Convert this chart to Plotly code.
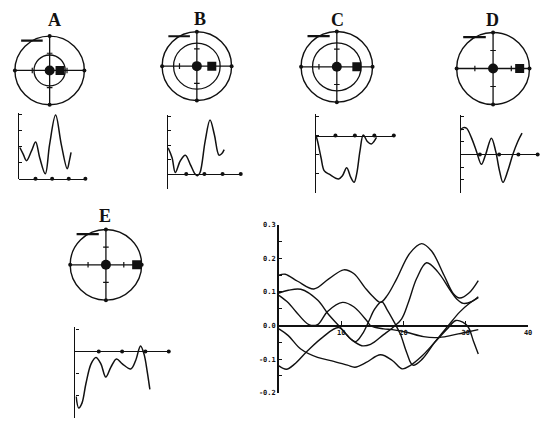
import plotly.graph_objects as go

W, H = 548, 434
INK = "#111111"

# ---- panel letters / target diagrams -------------------------------------
PANELS = ["A", "B", "C", "D", "E"]
INNER_RING = [0.45, 0.67, 0.68, None, None]   # inner circle radius (outer = 1)
SQUARE_POS = [0.30, 0.43, 0.56, 0.73, 0.86]   # square marker on +x axis
RING_TICKS = [-0.5, 0.5]
RING_ENDS = [-1, 1]
LABEL_DASH_X = [-0.82, -0.2]
LABEL_DASH_Y = 0.87

# ---- small traces under each target --------------------------------------
SMALL_A_X = [0.06, 0.26, 0.46, 0.76, 1.01, 1.25, 1.59, 1.85, 2.21, 2.55, 2.91, 3.04, 3.14]
SMALL_A_Y = [1.95, 1.54, 1.13, 1.74, 2.30, 1.33, 0.31, 2.15, 3.98, 2.15, 0.62, 1.13, 1.64]

SMALL_B_X = [0, 0.22, 0.40, 0.67, 0.95, 1.22, 1.49, 1.62, 1.76, 2.04, 2.31, 2.55, 2.80, 2.95, 3.09]
SMALL_B_Y = [1.82, 1.14, 0.11, 0.91, 1.30, 0.68, 0.0, -0.11, 0.11, 2.27, 3.75, 2.73, 1.32, 1.41, 1.70]

SMALL_C_X = [0, 0.085, 0.26, 0.43, 0.68, 1.16, 1.36, 1.58, 1.79, 1.96, 2.09, 2.26, 2.43, 2.64, 2.84, 2.98, 3.11]
SMALL_C_Y = [0, -0.31, -1.16, -1.85, -2.02, -2.27, -2.10, -1.68, -2.19, -2.44, -2.02, -0.82, 0.03, -0.31, -0.44, -0.31, -0.10]

SMALL_D_X = [0, 0.14, 0.31, 0.57, 0.82, 1.08, 1.30, 1.60, 1.82, 2.02, 2.20, 2.45, 2.71, 2.97, 3.19]
SMALL_D_Y = [1.94, 2.12, 2.07, 1.29, 0.26, -0.78, 0.0, 1.29, 0.26, -1.29, -2.20, -1.29, 0.0, 1.03, 1.68]

SMALL_E_X = [0.03, 0.14, 0.28, 0.45, 0.67, 0.88, 1.09, 1.30, 1.52, 1.76, 2.01, 2.37, 2.58, 2.79, 2.94, 3.08, 3.19]
SMALL_E_Y = [-2.04, -2.56, -2.34, -1.45, -0.56, -0.27, -0.56, -1.16, -0.71, -0.34, -0.56, -0.79, -0.41, 0.25, -0.12, -0.93, -1.72]

SMALL_X = [SMALL_A_X, SMALL_B_X, SMALL_C_X, SMALL_D_X, SMALL_E_X]
SMALL_Y = [SMALL_A_Y, SMALL_B_Y, SMALL_C_Y, SMALL_D_Y, SMALL_E_Y]
SMALL_YRANGE = [(0, 4), (-1, 4), (-3, 1), (-3, 3), (-3, 1)]
SMALL_XTICKS = [1, 2, 3, 4]

# ---- large overlay chart -------------------------------------------------
BIG_A_X = [0, 1, 3, 5.6, 8, 10.4, 12, 13.8, 15, 16.3, 17.4, 18.9, 21, 22.9, 24.5, 26.5, 28, 29, 30.5, 32]
BIG_A_Y = [0.150, 0.153, 0.132, 0.109, 0.139, 0.166, 0.155, 0.113, 0.088, 0.069, 0.090, 0.139,
           0.215, 0.244, 0.222, 0.150, 0.095, 0.082, 0.097, 0.134]

BIG_B_X = [0, 1.5, 3.5, 6.2, 8, 9.7, 11, 12.3, 13.4, 14.4, 15.4, 16.5, 17.4, 18.5, 19.5, 20.5,
           21.5, 23, 25, 27.2, 29, 30.5, 32]
BIG_B_Y = [0.097, 0.105, 0.108, 0.076, 0.032, -0.002, -0.030, -0.048, -0.025, 0.012, 0.050, 0.071,
           0.046, 0.010, -0.026, -0.080, -0.118, -0.100, -0.050, 0.0, 0.040, 0.065, 0.083]

BIG_C_X = [0, 1.5, 2.7, 4.8, 6.2, 7.8, 10.2, 12.0, 14.2, 14.7, 16.8, 18.2, 20.5, 23.2, 25.3, 27.5, 29.5, 32]
BIG_C_Y = [0.090, 0.068, 0.042, 0.003, 0.003, 0.042, 0.069, 0.056, 0.012, 0.0, -0.010, -0.012,
           -0.020, -0.033, -0.036, -0.030, -0.022, -0.012]

BIG_D_X = [0, 1.5, 3.5, 6.2, 8.5, 11, 12.2, 14, 16.3, 18.2, 19.8, 21, 23, 25, 27, 28.4, 29.5,
           30.4, 31.2, 32]
BIG_D_Y = [-0.010, -0.030, -0.070, -0.095, -0.105, -0.118, -0.124, -0.110, -0.087, -0.104, -0.129,
           -0.120, -0.090, -0.050, -0.010, 0.015, 0.010, -0.005, -0.045, -0.085]

BIG_E_X = [0, 1.2, 2.5, 4.6, 7, 9.6, 11.5, 13.3, 14.7, 16.8, 18.2, 19.7, 20.8, 22.1, 23.7, 25.5,
           27.5, 28.5, 29.6, 31, 32]
BIG_E_Y = [-0.120, -0.130, -0.115, -0.075, -0.035, -0.006, -0.040, -0.060, -0.056, -0.027, -0.007,
           0.020, 0.070, 0.140, 0.187, 0.160, 0.105, 0.080, 0.066, 0.072, 0.086]

BIG_CURVES = [(BIG_A_X, BIG_A_Y), (BIG_B_X, BIG_B_Y), (BIG_C_X, BIG_C_Y),
              (BIG_D_X, BIG_D_Y), (BIG_E_X, BIG_E_Y)]
BIG_YTICKS = [-0.2, -0.15, -0.1, -0.05, 0.0, 0.05, 0.1, 0.15, 0.2, 0.25, 0.3]
BIG_YLABELS = ["-0.2", "", "-0.1", "", "0.0", "", "0.1", "", "0.2", "", "0.3"]
BIG_XTICKS = [10, 20, 30, 40]
BIG_XLABELS = ["10", "20", "30", "40"]

# pixel placement of each block (center/radius for targets, origin/unit for charts)
TARGET_BOX = [(50, 67.7, 35), (198.3, 63.3, 35), (339.3, 64, 36), (496.7, 65.7, 36.7), (106.7, 265.7, 36)]
TITLE_PX = [(55, 16), (201, 15), (340, 16), (496, 16), (106, 216)]
SMALL_BOX = [(19, 178, 16.75, 16.3), (169.3, 173.3, 18.3, 14.7), (318.3, 134, 19.6, 19.5),
             (464, 153.3, 19.4, 12.9), (76, 354, 23.5, 22.5)]


def px(x):
    return x / W


def py(y):
    return 1 - y / H


fig = go.Figure()
layout = {}
shapes = []
annotations = []
K = 1.3

# target diagrams: axes 1..5
for i, name in enumerate(PANELS):
    n = i + 1
    cx, cy, r = TARGET_BOX[i]
    xa, ya = f"x{n}", f"y{n}"
    layout[f"xaxis{n}"] = dict(domain=[px(cx - K * r), px(cx + K * r)], range=[-K, K],
                               visible=False, anchor=ya)
    layout[f"yaxis{n}"] = dict(domain=[py(cy + K * r), py(cy - K * r)], range=[-K, K],
                               visible=False, anchor=xa)
    shapes.append(dict(type="circle", xref=xa, yref=ya, x0=-1, y0=-1, x1=1, y1=1,
                       line=dict(color=INK, width=1.4)))
    if INNER_RING[i]:
        ir = INNER_RING[i]
        shapes.append(dict(type="circle", xref=xa, yref=ya, x0=-ir, y0=-ir, x1=ir, y1=ir,
                           line=dict(color=INK, width=1.3)))
    # cross hairs
    fig.add_trace(go.Scatter(x=[RING_ENDS[0], RING_ENDS[1], None, 0, 0],
                             y=[0, 0, None, RING_ENDS[0], RING_ENDS[1]],
                             mode="lines", line=dict(color=INK, width=1.3),
                             xaxis=xa, yaxis=ya, hoverinfo="skip"))
    fig.add_trace(go.Scatter(x=RING_ENDS + [0, 0], y=[0, 0] + RING_ENDS, mode="markers",
                             marker=dict(size=4, color=INK), cliponaxis=False,
                             xaxis=xa, yaxis=ya, hoverinfo="skip"))
    fig.add_trace(go.Scatter(x=RING_TICKS, y=[0, 0], mode="markers",
                             marker=dict(symbol="line-ns", size=4, line=dict(width=1.2, color=INK)),
                             xaxis=xa, yaxis=ya, hoverinfo="skip"))
    fig.add_trace(go.Scatter(x=[0, 0], y=RING_TICKS, mode="markers",
                             marker=dict(symbol="line-ew", size=4, line=dict(width=1.2, color=INK)),
                             xaxis=xa, yaxis=ya, hoverinfo="skip"))
    # little label dash at upper left
    fig.add_trace(go.Scatter(x=LABEL_DASH_X, y=[LABEL_DASH_Y] * 2, mode="lines",
                             line=dict(color=INK, width=2.2), cliponaxis=False,
                             xaxis=xa, yaxis=ya, hoverinfo="skip"))
    # center dot and square
    fig.add_trace(go.Scatter(x=[0], y=[0], mode="markers",
                             marker=dict(size=10, color=INK), xaxis=xa, yaxis=ya, hoverinfo="skip"))
    fig.add_trace(go.Scatter(x=[SQUARE_POS[i]], y=[0], mode="markers",
                             marker=dict(size=9, color=INK, symbol="square"),
                             xaxis=xa, yaxis=ya, hoverinfo="skip"))
    tx, ty = TITLE_PX[i]
    annotations.append(dict(text=f"<b>{name}</b>", x=px(tx), y=py(ty), xref="paper", yref="paper",
                            xanchor="center", yanchor="middle", showarrow=False,
                            font=dict(family="Liberation Serif", size=18, color=INK)))

# small traces: axes 6..10
for i in range(5):
    n = i + 6
    ox, oy, ux, uy = SMALL_BOX[i]
    y0, y1 = SMALL_YRANGE[i]
    xa, ya = f"x{n}", f"y{n}"
    layout[f"xaxis{n}"] = dict(domain=[px(ox), px(ox + 4 * ux)], range=[0, 4],
                               anchor="free", position=py(oy), showline=True,
                               linecolor=INK, linewidth=1.4, showgrid=False, zeroline=False,
                               showticklabels=False, ticks="")
    layout[f"yaxis{n}"] = dict(domain=[py(oy - (y0 - 0.02) * uy), py(oy - (y1 + 0.1) * uy)],
                               range=[y0 - 0.02, y1 + 0.1], anchor=xa, showline=True,
                               linecolor=INK, linewidth=1.4, showgrid=False, zeroline=False,
                               showticklabels=False, ticks="inside", ticklen=3, tickwidth=1.3,
                               tickcolor=INK, tickvals=list(range(y0, y1 + 1)))
    fig.add_trace(go.Scatter(x=SMALL_XTICKS, y=[0] * len(SMALL_XTICKS), mode="markers",
                             marker=dict(size=4, color=INK), cliponaxis=False,
                             xaxis=xa, yaxis=ya, hoverinfo="skip"))
    fig.add_trace(go.Scatter(x=SMALL_X[i], y=SMALL_Y[i], mode="lines",
                             line=dict(color=INK, width=1.5, shape="spline", smoothing=1.0),
                             xaxis=xa, yaxis=ya, hoverinfo="skip"))

# big overlay chart: axis 11
tick_font = dict(family="DejaVu Sans Mono", size=7, color=INK, weight="bold")
layout["xaxis11"] = dict(domain=[px(281), px(532)], range=[0, 40], anchor="free",
                         position=py(327.6), showline=True, linecolor=INK, linewidth=1.6,
                         showgrid=False, zeroline=False, ticks="inside", ticklen=4, tickwidth=1.3,
                         tickcolor=INK, tickvals=BIG_XTICKS, ticktext=BIG_XLABELS,
                         tickfont=tick_font)
layout["yaxis11"] = dict(domain=[py(396), py(225)], range=[-0.2, 0.3], anchor="x11",
                         showline=True, linecolor=INK, linewidth=1.6, showgrid=False,
                         zeroline=False, ticks="inside", ticklen=3, tickwidth=1.3, tickcolor=INK,
                         tickvals=BIG_YTICKS, ticktext=BIG_YLABELS, tickfont=tick_font)
for cx_, cy_ in BIG_CURVES:
    fig.add_trace(go.Scatter(x=cx_, y=cy_, mode="lines",
                             line=dict(color=INK, width=1.4, shape="spline", smoothing=1.0),
                             xaxis="x11", yaxis="y11", hoverinfo="skip"))

fig.update_layout(
    width=W, height=H,
    margin=dict(l=0, r=0, t=0, b=0),
    paper_bgcolor="white", plot_bgcolor="rgba(0,0,0,0)",
    showlegend=False,
    shapes=shapes, annotations=annotations,
    **layout,
)

# drop the default page margin so the figure sits at the window's origin
fig.write_html("out.html", config={"displayModeBar": False},
               post_script="document.body.style.margin='0px';document.body.style.overflow='hidden';")
